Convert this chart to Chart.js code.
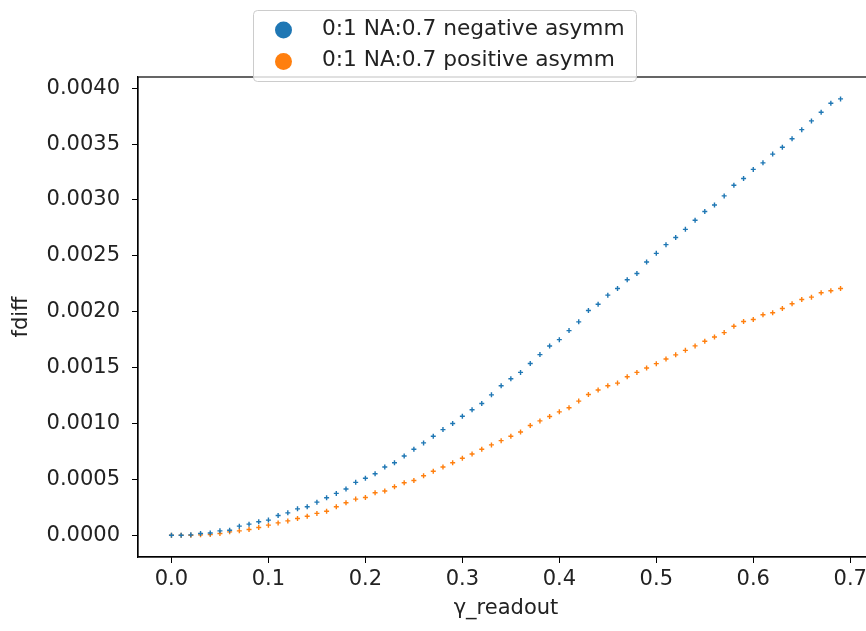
<!DOCTYPE html>
<html>
<head>
<meta charset="utf-8">
<script src="https://cdn.jsdelivr.net/npm/chart.js@4.4.1/dist/chart.umd.min.js"></script>
<style>
  body { margin: 0; background: #fff; overflow: hidden; }
  #wrap { width: 880px; height: 631px; }
</style>
</head>
<body>
<div id="wrap"><canvas id="Chart-1" width="880" height="631"></canvas></div>
<script>
// gamma readout values (x)
var gammaReadout = [0.00,0.01,0.02,0.03,0.04,0.05,0.06,0.07,0.08,0.09,
  0.10,0.11,0.12,0.13,0.14,0.15,0.16,0.17,0.18,0.19,
  0.20,0.21,0.22,0.23,0.24,0.25,0.26,0.27,0.28,0.29,
  0.30,0.31,0.32,0.33,0.34,0.35,0.36,0.37,0.38,0.39,
  0.40,0.41,0.42,0.43,0.44,0.45,0.46,0.47,0.48,0.49,
  0.50,0.51,0.52,0.53,0.54,0.55,0.56,0.57,0.58,0.59,
  0.60,0.61,0.62,0.63,0.64,0.65,0.66,0.67,0.68,0.69];

var negativeAsymm = [0,0,0.000003,0.000015,0.00002,0.000039,0.000045,0.000081,0.000099,0.00012,
  0.000135,0.000177,0.0002,0.000236,0.000254,0.000296,0.000335,0.000374,0.000413,0.000473,
  0.000509,0.00055,0.00061,0.000649,0.000709,0.000769,0.000826,0.000886,0.000945,0.001,
  0.001065,0.001122,0.001178,0.001256,0.001337,0.0014,0.001457,0.001537,0.001616,0.001693,
  0.00175,0.001831,0.001909,0.00201,0.002067,0.002148,0.002208,0.002286,0.002342,0.002444,
  0.002522,0.0026,0.002664,0.002737,0.002818,0.002896,0.002955,0.003036,0.003132,0.003192,
  0.003273,0.003332,0.00341,0.003471,0.003548,0.003629,0.003707,0.003785,0.003865,0.003904];

var positiveAsymm = [0,0,0,0.000003,0.000006,0.000015,0.00003,0.000039,0.000051,0.000069,
  0.00009,0.00011,0.000128,0.00015,0.00017,0.000195,0.000215,0.000254,0.00029,0.000323,
  0.000338,0.00038,0.000395,0.000434,0.00047,0.00049,0.000532,0.000572,0.00061,0.000649,
  0.000688,0.000727,0.000769,0.000808,0.000846,0.000885,0.000924,0.000981,0.001023,0.001062,
  0.001104,0.00114,0.0012,0.001259,0.001299,0.001337,0.001361,0.001418,0.001457,0.001496,
  0.001535,0.001577,0.001614,0.001654,0.001694,0.001735,0.001774,0.001813,0.00187,0.001912,
  0.00193,0.001972,0.00199,0.002028,0.002071,0.002109,0.00213,0.002169,0.002187,0.002208];

var seriesLabels = ["0:1 NA:0.7 negative asymm", "0:1 NA:0.7 positive asymm"];
var xTicks = [0.0,0.1,0.2,0.3,0.4,0.5,0.6,0.7];
var yTicks = [0.0000,0.0005,0.0010,0.0015,0.0020,0.0025,0.0030,0.0035,0.0040];

var FONT = "'DejaVu Sans', sans-serif";
Chart.defaults.font.family = FONT;
Chart.defaults.color = "#222";

function toPoints(xs, ys) {
    return xs.map(function (x, i) { return {x: x, y: ys[i]}; });
}

// frame round the axes + the matplotlib style legend box
var framePlugin = {
    id: "frame",
    afterDatasetsDraw: function (chart) {
        var ctx = chart.ctx, a = chart.chartArea;
        ctx.save();
        ctx.strokeStyle = "#000";
        ctx.lineWidth = 1.2;
        ctx.strokeRect(a.left, a.top, a.right - a.left, a.bottom - a.top);
        ctx.restore();
    },
    afterDraw: function (chart) {
        var ctx = chart.ctx;
        var bx = 253.5, by = 10.5, bw = 383, bh = 71, r = 4;
        ctx.save();
        ctx.beginPath();
        ctx.moveTo(bx + r, by);
        ctx.arcTo(bx + bw, by, bx + bw, by + bh, r);
        ctx.arcTo(bx + bw, by + bh, bx, by + bh, r);
        ctx.arcTo(bx, by + bh, bx, by, r);
        ctx.arcTo(bx, by, bx + bw, by, r);
        ctx.closePath();
        ctx.fillStyle = "rgba(255,255,255,0.8)";
        ctx.fill();
        ctx.strokeStyle = "#cccccc";
        ctx.lineWidth = 1;
        ctx.stroke();
        ctx.font = "21.7px " + FONT;
        ctx.textBaseline = "middle";
        chart.data.datasets.forEach(function (ds, i) {
            var cy = 30 + i * 31.5;
            ctx.beginPath();
            ctx.arc(283.5, cy, 8.5, 0, Math.PI * 2);
            ctx.fillStyle = ds.borderColor;
            ctx.fill();
            ctx.fillStyle = "#222";
            ctx.fillText(ds.label, 322, cy - 1);
        });
        ctx.restore();
    }
};

new Chart("Chart-1", {
    type: "scatter",
    data: {
        datasets: [{
            label: seriesLabels[0],
            data: toPoints(gammaReadout, negativeAsymm),
            borderColor: "#1f77b4",
            backgroundColor: "#1f77b4",
            pointStyle: "cross",
            pointRadius: 2.5,
            borderWidth: 1.4
        }, {
            label: seriesLabels[1],
            data: toPoints(gammaReadout, positiveAsymm),
            borderColor: "#ff7f0e",
            backgroundColor: "#ff7f0e",
            pointStyle: "cross",
            pointRadius: 2.5,
            borderWidth: 1.4
        }]
    },
    options: {
        responsive: false,
        animation: false,
        devicePixelRatio: 1,
        layout: {padding: {top: 77, right: 6, left: 0, bottom: 0}},
        plugins: {legend: {display: false}, tooltip: {enabled: false}},
        scales: {
            x: {
                type: "linear",
                min: -0.0345,
                max: 0.7245,
                afterBuildTicks: function (scale) {
                    scale.ticks = xTicks.map(function (v) { return {value: v}; });
                },
                afterFit: function (scale) { scale.height = 74; },
                ticks: {
                    font: {size: 21},
                    color: "#222",
                    padding: 4,
                    maxRotation: 0,
                    callback: function (v) { return v.toFixed(1); }
                },
                grid: {drawOnChartArea: false, drawTicks: true, tickLength: 6, color: "#000"},
                border: {display: true, color: "#000", width: 1.2},
                title: {display: true, text: "γ_readout", font: {size: 21}, color: "#222", padding: {top: 0, bottom: 10}}
            },
            y: {
                type: "linear",
                min: -0.000195,
                max: 0.0041,
                afterBuildTicks: function (scale) {
                    scale.ticks = yTicks.map(function (v) { return {value: v}; });
                },
                afterFit: function (scale) { scale.width = 138; },
                ticks: {
                    font: {size: 21},
                    color: "#222",
                    padding: 12,
                    callback: function (v) { return v.toFixed(4); }
                },
                grid: {drawOnChartArea: false, drawTicks: true, tickLength: 6, color: "#000"},
                border: {display: true, color: "#000", width: 1.2},
                title: {display: true, text: "fdiff", font: {size: 21}, color: "#222", padding: {top: 9, bottom: 0}}
            }
        }
    },
    plugins: [framePlugin]
});
</script>
</body>
</html>
